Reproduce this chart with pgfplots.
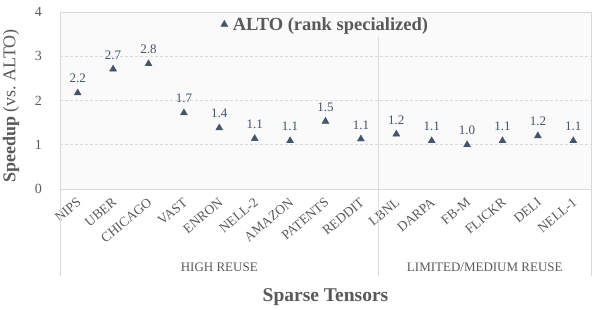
\documentclass[border=0pt]{standalone}
\usepackage{fontspec}
\setmainfont{Liberation Serif}
\usepackage{pgfplots}
\pgfplotsset{compat=1.18}
\definecolor{mk}{HTML}{44546A}
\definecolor{tx}{HTML}{595959}
\definecolor{gr}{HTML}{D9D9D9}
\pgfplotstableread{
x y lab
0 2.17 2.2
1 2.71 2.7
2 2.83 2.8
3 1.72 1.7
4 1.38 1.4
5 1.14 1.1
6 1.09 1.1
7 1.53 1.5
8 1.13 1.1
9 1.24 1.2
10 1.09 1.1
11 1.00 1.0
12 1.09 1.1
13 1.20 1.2
14 1.09 1.1
}\datatab
\begin{document}
\begin{tikzpicture}
\useasboundingbox (0pt,0pt) rectangle (598pt,309pt);
\begin{axis}[
  at={(60pt,120pt)}, anchor=south west,
  scale only axis, width=531pt, height=177pt,
  xmin=-0.5, xmax=14.5, ymin=0, ymax=4,
  ytick={0,1,2,3,4},
  xtick={0,...,14},
  xticklabels={NIPS,UBER,CHICAGO,VAST,ENRON,NELL-2,AMAZON,PATENTS,REDDIT,LBNL,DARPA,FB-M,FLICKR,DELI,NELL-1},
  major tick length=0pt,
  /pgf/number format/assume math mode=true,
  ymajorgrids,
  grid style={gr, dash pattern=on 3pt off 2pt, line width=0.6pt},
  axis line style={gr, line width=0.8pt},
  axis background/.style={fill=black!2},
  tick label style={font=\fontsize{13.5}{15}\selectfont, text=tx},
  xticklabel style={xshift=-1.5pt, yshift=-8pt, rotate=40, anchor=north east, inner sep=0pt},
  yticklabel style={font=\fontsize{14}{16}\selectfont, anchor=east, inner sep=0pt, xshift=-18pt},
  ylabel={\textbf{Speedup} (vs.\ ALTO)},
  ylabel style={at={(axis description cs:-0.0923,0.47)}, anchor=center, font=\fontsize{18}{20}\selectfont, text=tx},
  xlabel={\textbf{Sparse Tensors}},
  xlabel style={at={(axis description cs:0.5,-0.61)}, anchor=center, font=\fontsize{19.5}{21}\selectfont, text=tx},
  legend style={at={(0.5,1)}, anchor=north, draw=none, fill=none, yshift=-1pt,
    font=\fontsize{18.5}{20}\selectfont\bfseries, text=tx},
  legend image code/.code={\draw[mark repeat=2,mark phase=2] plot coordinates {(0cm,0cm) (0.12cm,0cm) (0.3cm,0cm)};},
  clip=false,
]
\addplot[only marks, mark=triangle*, mark size=4pt, color=mk,
  point meta=explicit symbolic, nodes near coords,
  nodes near coords style={font=\fontsize{13}{15}\selectfont, text=mk, anchor=base, yshift=10pt}]
  table[x=x, y=y, meta=lab] {\datatab};
\addlegendentry{\hspace{3pt}ALTO (rank specialized)}
\draw[gr, line width=0.8pt] (axis cs:8.5,-1.966) -- (axis cs:8.5,3.43);
\draw[gr, line width=0.8pt] (axis cs:-0.5,-1.966) -- (axis cs:-0.5,0);
\draw[gr, line width=0.8pt] (axis cs:14.5,-1.966) -- (axis cs:14.5,0);
\node[font=\fontsize{13}{15}\selectfont, text=tx] at (axis cs:4,-1.763) {HIGH REUSE};
\node[font=\fontsize{13}{15}\selectfont, text=tx] at (axis cs:11.5,-1.763) {LIMITED/MEDIUM REUSE};
\end{axis}
\end{tikzpicture}
\end{document}
